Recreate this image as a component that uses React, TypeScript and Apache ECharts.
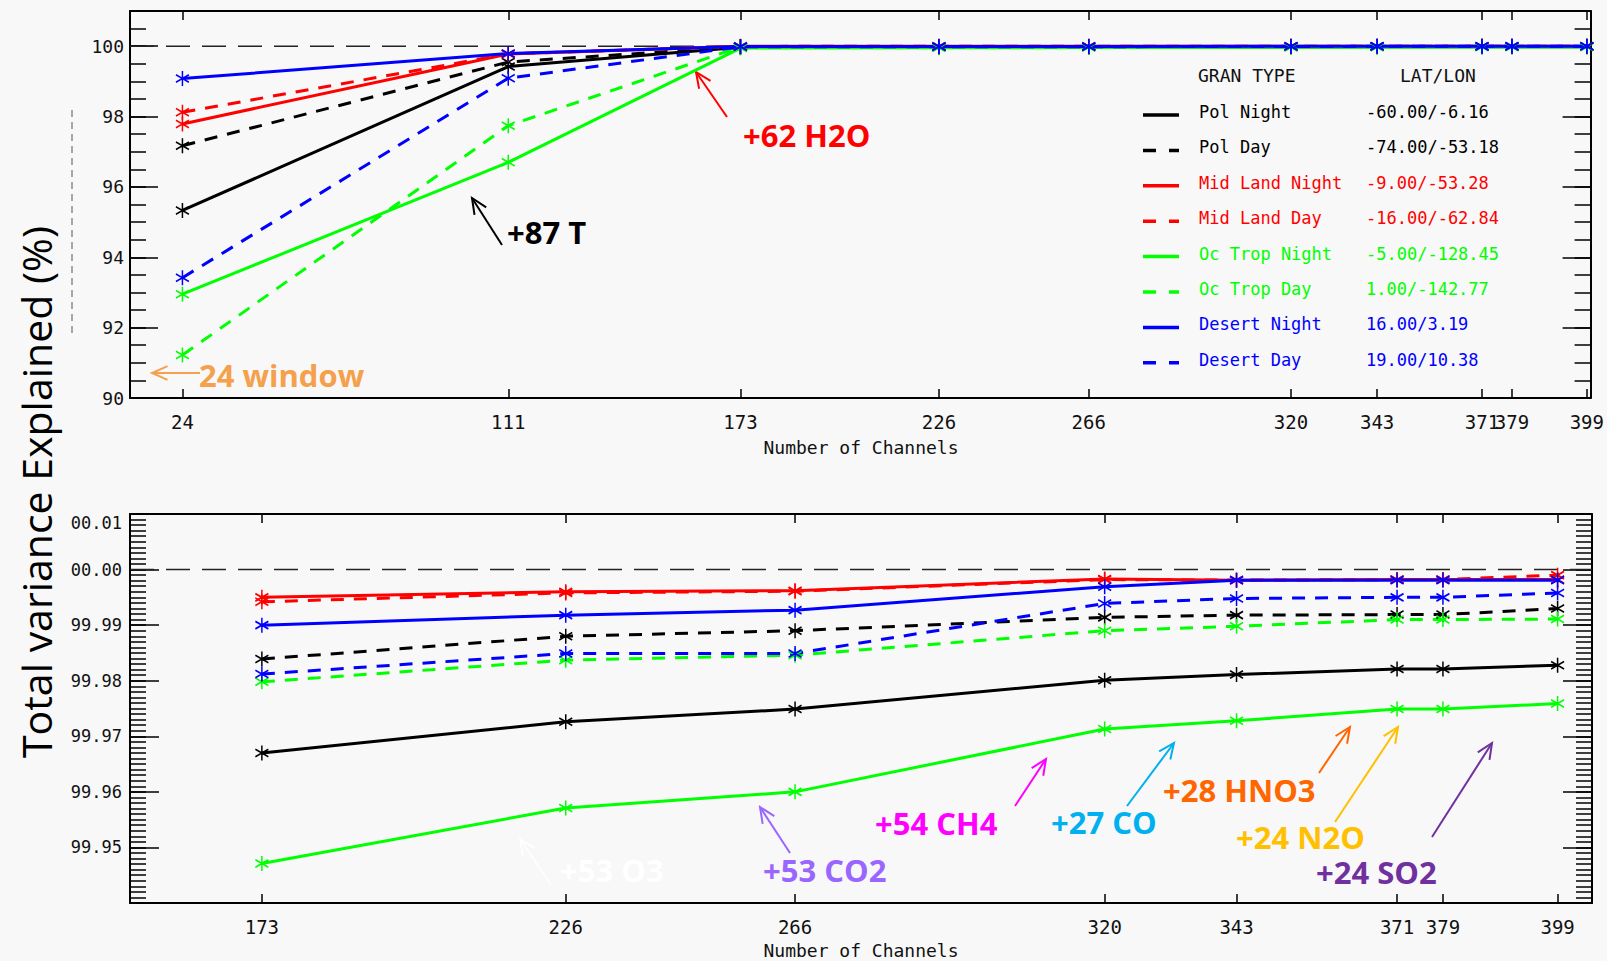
import React, { useEffect, useRef } from "react";
import * as echarts from "echarts";

// ---------- data ----------
const CHANNELS = [24, 111, 173, 226, 266, 320, 343, 371, 379, 399];
const ZOOM_CHANNELS = [173, 226, 266, 320, 343, 371, 379, 399];

const SERIES_NAMES = [
  "Pol Night",
  "Pol Day",
  "Mid Land Night",
  "Mid Land Day",
  "Oc Trop Night",
  "Oc Trop Day",
  "Desert Night",
  "Desert Day",
];
const LAT_LON = [
  "-60.00/-6.16",
  "-74.00/-53.18",
  "-9.00/-53.28",
  "-16.00/-62.84",
  "-5.00/-128.45",
  "1.00/-142.77",
  "16.00/3.19",
  "19.00/10.38",
];

const polNight = [95.33, 99.42, 99.967, 99.9726, 99.9749, 99.9801, 99.9811, 99.9821, 99.9821, 99.9828];
const polDay = [97.17, 99.55, 99.9839, 99.988, 99.989, 99.9914, 99.9918, 99.9919, 99.9919, 99.993];
const midLandNight = [97.79, 99.78, 99.995, 99.996, 99.9962, 99.9983, 99.9981, 99.9982, 99.9982, 99.9982];
const midLandDay = [98.12, 99.78, 99.9942, 99.9958, 99.9961, 99.9982, 99.9981, 99.9982, 99.9982, 99.999];
const ocTropNight = [92.95, 96.7, 99.9471, 99.9571, 99.96, 99.9713, 99.9728, 99.9749, 99.9749, 99.9759];
const ocTropDay = [91.22, 97.74, 99.9798, 99.9837, 99.9846, 99.989, 99.9898, 99.991, 99.991, 99.9911];
const desertNight = [99.08, 99.79, 99.99, 99.9918, 99.9927, 99.9969, 99.9981, 99.9981, 99.9981, 99.9981];
const desertDay = [93.42, 99.09, 99.9812, 99.9849, 99.9849, 99.9939, 99.9948, 99.995, 99.995, 99.9958];

const SERIES_VALUES = [polNight, polDay, midLandNight, midLandDay, ocTropNight, ocTropDay, desertNight, desertDay];

const TOP_Y_TICKS = [90, 92, 94, 96, 98, 100];
const REFERENCE_VALUE = 100;

// ---------- styles ----------
const SERIES_COLORS = ["#000000", "#000000", "#ff0000", "#ff0000", "#00ff00", "#00ff00", "#0000ff", "#0000ff"];
const SERIES_DASHED = [false, true, false, true, false, true, false, true];

const STAR = "path://M5 0L5 10M0.67 2.5L9.33 7.5M0.67 7.5L9.33 2.5";
const MONO = "'DejaVu Sans Mono', 'Liberation Mono', monospace";
const SANS = "'Open Sans', 'Noto Sans', sans-serif";

const ANNOTATIONS = [
  { text: "+62 H2O", color: "#ff0000", tx: 743, ty: 135, from: [727, 117], to: [696, 72], w: 2 },
  { text: "+87 T", color: "#000000", tx: 507, ty: 232, from: [502, 245], to: [472, 198], w: 2 },
  { text: "24 window", color: "#f5a04c", tx: 199, ty: 375, from: [200, 373], to: [152, 373], w: 2 },
  { text: "+53 O3", color: "#ffffff", tx: 560, ty: 870, from: [551, 885], to: [520, 839], w: 1.5 },
  { text: "+53 CO2", color: "#9966ff", tx: 763, ty: 870, from: [790, 853], to: [760, 807], w: 2 },
  { text: "+54 CH4", color: "#ff00ff", tx: 875, ty: 823, from: [1015, 806], to: [1046, 759], w: 2 },
  { text: "+27 CO", color: "#00b0f0", tx: 1051, ty: 822, from: [1127, 806], to: [1174, 743], w: 2 },
  { text: "+28 HNO3", color: "#ff6600", tx: 1163, ty: 790, from: [1319, 773], to: [1350, 727], w: 2 },
  { text: "+24 N2O", color: "#ffc000", tx: 1236, ty: 837, from: [1335, 822], to: [1398, 727], w: 2 },
  { text: "+24 SO2", color: "#7030a0", tx: 1316, ty: 872, from: [1432, 837], to: [1492, 743], w: 2 },
];

function arrowEls(from: number[], to: number[], color: string, w: number) {
  const a = Math.atan2(to[1] - from[1], to[0] - from[0]);
  const len = 17;
  const s = 0.42;
  const p1 = [to[0] - len * Math.cos(a - s), to[1] - len * Math.sin(a - s)];
  const p2 = [to[0] - len * Math.cos(a + s), to[1] - len * Math.sin(a + s)];
  return [
    { type: "line", shape: { x1: from[0], y1: from[1], x2: to[0], y2: to[1] }, style: { stroke: color, lineWidth: w }, silent: true },
    { type: "polyline", shape: { points: [p1, to, p2] }, style: { stroke: color, lineWidth: w, fill: null }, silent: true },
  ];
}

function buildOption() {
  const axisLine = { show: true, lineStyle: { color: "#000", width: 2 } };
  const xAxis = (grid: number, min: number, max: number, ticks: number[], pos: string, labels: boolean) => ({
    type: "value",
    gridIndex: grid,
    min,
    max,
    position: pos,
    axisLine,
    splitLine: { show: false },
    axisTick: { show: true, inside: true, length: 9, customValues: ticks, lineStyle: { color: "#000", width: 1.5 } },
    axisLabel: labels
      ? { show: true, customValues: ticks, margin: 14, fontFamily: MONO, fontSize: 19, color: "#111" }
      : { show: false },
  });
  const yAxis = (
    grid: number,
    min: number,
    max: number,
    interval: number,
    pos: string,
    len: number,
    line: boolean,
    label: any
  ) => ({
    type: "value",
    gridIndex: grid,
    min,
    max,
    interval,
    position: pos,
    axisLine: line ? axisLine : { show: false },
    splitLine: { show: false },
    axisTick: { show: true, inside: true, length: len, lineStyle: { color: "#000", width: 1.5 } },
    axisLabel: label || { show: false },
  });

  const topLabel = {
    show: true,
    margin: 6,
    fontFamily: MONO,
    fontSize: 18,
    color: "#111",
    formatter: (v: number) => (TOP_Y_TICKS.indexOf(v) >= 0 ? String(v) : ""),
  };
  const botLabel = {
    show: true,
    margin: 8,
    fontFamily: MONO,
    fontSize: 17,
    color: "#111",
    verticalAlignMaxLabel: "top",
    formatter: (v: number) => {
      if (v < 99.945) return "";
      const s = v.toFixed(2);
      return v >= 99.995 ? s.slice(1) : s;
    },
  };

  const series: any[] = [];
  SERIES_VALUES.forEach((vals, i) => {
    const color = SERIES_COLORS[i];
    const common = {
      type: "line",
      name: SERIES_NAMES[i],
      symbol: STAR,
      symbolSize: [13, 15],
      showSymbol: true,
      clip: true,
      silent: true,
      lineStyle: { color, width: 3, type: SERIES_DASHED[i] ? [13, 10] : "solid" },
      itemStyle: { color, borderColor: color, borderWidth: 1.6 },
    };
    series.push({ ...common, xAxisIndex: 0, yAxisIndex: 0, data: CHANNELS.map((c, j) => [c, vals[j]]) });
    series.push({
      ...common,
      xAxisIndex: 2,
      yAxisIndex: 4,
      data: ZOOM_CHANNELS.map((c) => [c, vals[CHANNELS.indexOf(c)]]),
    });
  });
  series.unshift(
    {
      type: "line",
      xAxisIndex: 0,
      yAxisIndex: 0,
      symbol: "none",
      silent: true,
      data: [[10, REFERENCE_VALUE], [400, REFERENCE_VALUE]],
      lineStyle: { color: "#222", width: 1.5, type: [24, 12] },
      z: 1,
    },
    {
      type: "line",
      xAxisIndex: 2,
      yAxisIndex: 4,
      symbol: "none",
      silent: true,
      data: [[150, REFERENCE_VALUE], [405, REFERENCE_VALUE]],
      lineStyle: { color: "#222", width: 1.5, type: [24, 12] },
      z: 1,
    }
  );

  const graphic: any[] = [];
  // y title
  graphic.push({
    type: "text",
    x: 36,
    y: 492,
    rotation: Math.PI / 2,
    style: { text: "Total variance Explained (%)", fontFamily: SANS, fontSize: 41, fill: "#000", align: "center", verticalAlign: "middle" },
    silent: true,
  });
  // ghost of original axis title
  graphic.push({
    type: "line",
    shape: { x1: 72, y1: 110, x2: 72, y2: 338 },
    style: { stroke: "#555", lineWidth: 1, lineDash: [7, 5] },
    silent: true,
  });
  // x titles
  [447, 950].forEach((y) =>
    graphic.push({
      type: "text",
      x: 861,
      y,
      style: { text: "Number of Channels", fontFamily: MONO, fontSize: 18, fill: "#111", align: "center", verticalAlign: "middle" },
      silent: true,
    })
  );
  // legend
  graphic.push({
    type: "text",
    x: 1198,
    y: 75,
    style: { text: "GRAN TYPE", fontFamily: MONO, fontSize: 18, fill: "#111", align: "left", verticalAlign: "middle" },
  });
  graphic.push({
    type: "text",
    x: 1400,
    y: 75,
    style: { text: "LAT/LON", fontFamily: MONO, fontSize: 18, fill: "#111", align: "left", verticalAlign: "middle" },
  });
  SERIES_NAMES.forEach((name, i) => {
    const y = 112 + i * 35.4;
    const color = SERIES_COLORS[i];
    graphic.push({
      type: "line",
      shape: { x1: 1143, y1: y + 3, x2: 1179, y2: y + 3 },
      style: { stroke: color, lineWidth: 3.5, lineDash: SERIES_DASHED[i] ? [13, 13] : null },
    });
    graphic.push({
      type: "text",
      x: 1199,
      y,
      style: { text: name, fontFamily: MONO, fontSize: 17, fill: color, align: "left", verticalAlign: "middle" },
    });
    graphic.push({
      type: "text",
      x: 1366,
      y,
      style: { text: LAT_LON[i], fontFamily: MONO, fontSize: 17, fill: color, align: "left", verticalAlign: "middle" },
    });
  });
  // annotations
  ANNOTATIONS.forEach((a) => {
    arrowEls(a.from, a.to, a.color, a.w).forEach((el) => graphic.push(el));
    graphic.push({
      type: "text",
      x: a.tx,
      y: a.ty,
      style: { text: a.text, fontFamily: SANS, fontWeight: "bold", fontSize: 31, fill: a.color, align: "left", verticalAlign: "middle" },
      silent: true,
    });
  });

  return {
    animation: false,
    backgroundColor: "#f8f8f8",
    grid: [
      { left: 130, top: 11, width: 1461, height: 387 },
      { left: 130, top: 514, width: 1462, height: 389 },
    ],
    xAxis: [
      xAxis(0, 10, 400, CHANNELS, "bottom", true),
      xAxis(0, 10, 400, CHANNELS, "top", false),
      xAxis(1, 150, 405, ZOOM_CHANNELS, "bottom", true),
      xAxis(1, 150, 405, ZOOM_CHANNELS, "top", false),
    ],
    yAxis: [
      yAxis(0, 90, 101, 2, "left", 28, true, topLabel),
      yAxis(0, 90, 101, 0.5, "left", 16, false, null),
      yAxis(0, 90, 101, 2, "right", 28, true, null),
      yAxis(0, 90, 101, 0.5, "right", 16, false, null),
      yAxis(1, 99.94, 100.01, 0.01, "left", 29, true, botLabel),
      yAxis(1, 99.94, 100.01, 0.001, "left", 16, false, null),
      yAxis(1, 99.94, 100.01, 0.01, "right", 29, true, null),
      yAxis(1, 99.94, 100.01, 0.001, "right", 16, false, null),
    ],
    series,
    graphic,
  };
}

export default function App() {
  const ref = useRef<HTMLDivElement>(null);
  useEffect(() => {
    if (!ref.current) return;
    const chart = echarts.init(ref.current, null, { renderer: "svg" });
    chart.setOption(buildOption() as any);
    return () => chart.dispose();
  }, []);
  return (
    <div
      ref={ref}
      style={{ position: "absolute", left: 0, top: 0, width: 1607, height: 961, background: "#f8f8f8" }}
    />
  );
}
